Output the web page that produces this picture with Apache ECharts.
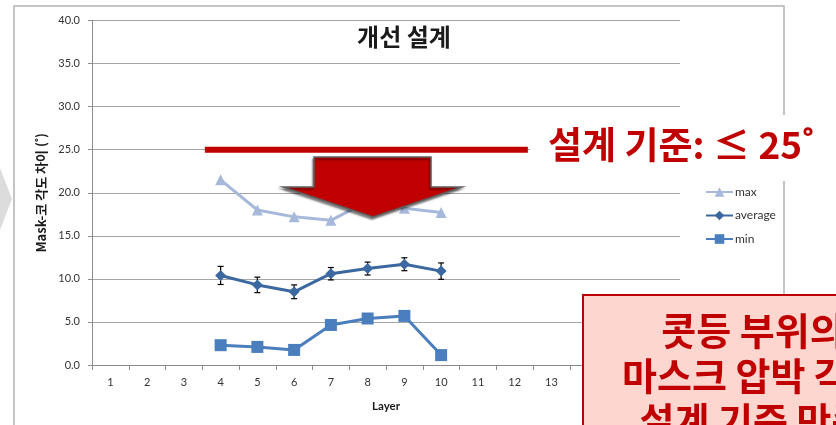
<!DOCTYPE html>
<html>
<head>
<meta charset="utf-8">
<script src="https://cdn.jsdelivr.net/npm/echarts@6/dist/echarts.min.js"></script>
<style>
  html, body { margin: 0; padding: 0; background: #ffffff; }
  #chart { width: 836px; height: 425px; }
</style>
</head>
<body>
<div id="chart"></div>
<script>
// Layer axis (1..16) and the layers that were measured
const categories = ['1','2','3','4','5','6','7','8','9','10','11','12','13','14','15','16'];
const layers = ['4','5','6','7','8','9','10'];

// Mask-to-nose angle difference per layer (degrees)
const maxVals = [21.5, 18.0, 17.2, 16.8, 19.0, 18.2, 17.7];
const avgVals = [10.4, 9.3, 8.5, 10.6, 11.2, 11.7, 10.9];
const avgErr  = [1.05, 0.9, 0.8, 0.72, 0.75, 0.75, 0.95];
const minVals = [2.3, 2.1, 1.75, 4.65, 5.4, 5.7, 1.15];

// Design criterion line (value) and its horizontal extent on the layer scale
const criterion = 25;
const criterionSpan = [3.57, 12.36];

// Y-axis tick range
const yTicks = { min: 0, max: 40, step: 5 };

const CJK = '"Noto Sans CJK KR", "Noto Sans", sans-serif';
const LAT = 'Lato, "Noto Sans", sans-serif';
const RED = '#C00000';

const chart = echarts.init(document.getElementById('chart'), null, { renderer: 'canvas' });

const option = {
  backgroundColor: '#ffffff',
  animation: false,
  title: {
    text: '개선 설계',
    left: 399,
    top: 20,
    textAlign: 'center',
    textStyle: { fontFamily: CJK, fontSize: 24, fontWeight: 'bold', color: '#1a1a1a' }
  },
  grid: { left: 92, right: 156, top: 20.5, bottom: 60, containLabel: false },
  legend: {
    orient: 'vertical',
    left: 700,
    top: 181,
    itemWidth: 27,
    itemHeight: 12,
    itemGap: 11.5,
    data: ['max', 'average', 'min'],
    textStyle: { fontFamily: LAT, fontSize: 12, color: '#333333', padding: [0, 0, 0, -3] }
  },
  xAxis: [
    {
      type: 'category',
      data: categories,
      boundaryGap: true,
      name: 'Layer',
      nameLocation: 'middle',
      nameGap: 35,
      nameTextStyle: { fontFamily: LAT, fontSize: 11.5, fontWeight: 'bold', color: '#1a1a1a' },
      axisLine: { lineStyle: { color: '#8c8c8c', width: 1 } },
      axisTick: { show: true, interval: 0, length: 5, lineStyle: { color: '#8c8c8c' } },
      axisLabel: { interval: 0, margin: 12, fontFamily: LAT, fontSize: 11, color: '#333333' },
      splitLine: { show: false }
    },
    {
      type: 'value',
      min: 0.5,
      max: 16.5,
      show: false
    }
  ],
  yAxis: {
    type: 'value',
    min: yTicks.min,
    max: yTicks.max,
    interval: yTicks.step,
    name: 'Mask-코 각도 차이 (˚)',
    nameLocation: 'middle',
    nameGap: 44,
    nameRotate: 90,
    nameTextStyle: { fontFamily: CJK, fontSize: 13, fontWeight: 'bold', color: '#1a1a1a' },
    axisLine: { show: true, lineStyle: { color: '#8c8c8c', width: 1 } },
    axisTick: { show: true, length: 4, lineStyle: { color: '#8c8c8c' } },
    axisLabel: {
      margin: 12,
      fontFamily: LAT, fontSize: 11, color: '#333333',
      formatter: v => v.toFixed(1)
    },
    splitLine: { show: true, lineStyle: { color: '#a6a6a6', width: 1 } }
  },
  series: [
    {
      name: 'criterion',
      type: 'line',
      xAxisIndex: 1,
      data: criterionSpan.map(x => [x, criterion]),
      symbol: 'none',
      lineStyle: { color: RED, width: 6 },
      silent: true,
      z: 3
    },
    {
      name: 'max',
      type: 'line',
      data: layers.map((l, i) => [l, maxVals[i]]),
      symbol: 'triangle',
      symbolSize: 11,
      color: '#a7b9da',
      lineStyle: { width: 3, color: '#a7b9da' },
      itemStyle: { color: '#a7b9da' },
      z: 4
    },
    {
      name: 'avgErr',
      type: 'custom',
      data: layers.map((l, i) => [l, avgVals[i] - avgErr[i], avgVals[i] + avgErr[i]]),
      renderItem: (params, api) => {
        const lo = api.coord([api.value(0), api.value(1)]);
        const hi = api.coord([api.value(0), api.value(2)]);
        const w = 3;
        const st = { stroke: '#000000', lineWidth: 1.2 };
        return {
          type: 'group',
          children: [
            { type: 'line', shape: { x1: lo[0], y1: lo[1], x2: hi[0], y2: hi[1] }, style: st },
            { type: 'line', shape: { x1: lo[0] - w, y1: lo[1], x2: lo[0] + w, y2: lo[1] }, style: st },
            { type: 'line', shape: { x1: hi[0] - w, y1: hi[1], x2: hi[0] + w, y2: hi[1] }, style: st }
          ]
        };
      },
      z: 4
    },
    {
      name: 'average',
      type: 'line',
      data: layers.map((l, i) => [l, avgVals[i]]),
      symbol: 'diamond',
      symbolSize: 11,
      color: '#3c68a0',
      lineStyle: { width: 3, color: '#3c68a0' },
      itemStyle: { color: '#3c68a0' },
      z: 5
    },
    {
      name: 'min',
      type: 'line',
      data: layers.map((l, i) => [l, minVals[i]]),
      symbol: 'rect',
      symbolSize: 12,
      color: '#4a7ebd',
      lineStyle: { width: 3, color: '#4a7ebd' },
      itemStyle: { color: '#4a7ebd' },
      z: 5
    }
  ],
  graphic: [
    // chart area frame
    {
      type: 'rect', z: 1, silent: true,
      shape: { x: 14, y: 6, width: 770, height: 500 },
      style: { fill: 'none', stroke: '#b3b3b3', lineWidth: 1.5 }
    },
    // grey chevron on the slide's left edge
    {
      type: 'polygon', z: 1, silent: true,
      shape: { points: [[0, 168], [12, 199], [0, 230]] },
      style: { fill: '#dcdcdc' }
    },
    // down arrow
    {
      type: 'polygon', z: 100, silent: true,
      shape: { points: [[314, 157], [431, 157], [431, 187], [462, 187], [373, 217], [283, 187], [314, 187]] },
      style: {
        fill: RED, stroke: '#5f5f5f', lineWidth: 1.5,
        shadowBlur: 2, shadowOffsetX: -1, shadowOffsetY: 2, shadowColor: 'rgba(0,0,0,0.45)'
      }
    },
    // criterion caption
    {
      type: 'rect', z: 100, silent: true,
      shape: { x: 530, y: 115, width: 306, height: 66 },
      style: { fill: '#ffffff' }
    },
    {
      type: 'text', z: 101, silent: true,
      left: 548, top: 126,
      style: {
        text: '설계 기준: ≤ 25˚',
        fontFamily: CJK, fontSize: 37, fontWeight: 'bold', fill: RED
      }
    },
    // conclusion box
    {
      type: 'rect', z: 100, silent: true,
      shape: { x: 583, y: 295, width: 400, height: 200 },
      style: { fill: '#fdd6d0', stroke: RED, lineWidth: 2 }
    },
    {
      type: 'text', z: 101, silent: true,
      x: 753, y: 308,
      style: {
        text: '콧등 부위의\n마스크 압박 각도\n설계 기준 만족',
        textAlign: 'center',
        textVerticalAlign: 'top',
        lineHeight: 45,
        fontFamily: CJK, fontSize: 38, fontWeight: 'bold', fill: RED
      }
    }
  ]
};

chart.setOption(option);
</script>
</body>
</html>
